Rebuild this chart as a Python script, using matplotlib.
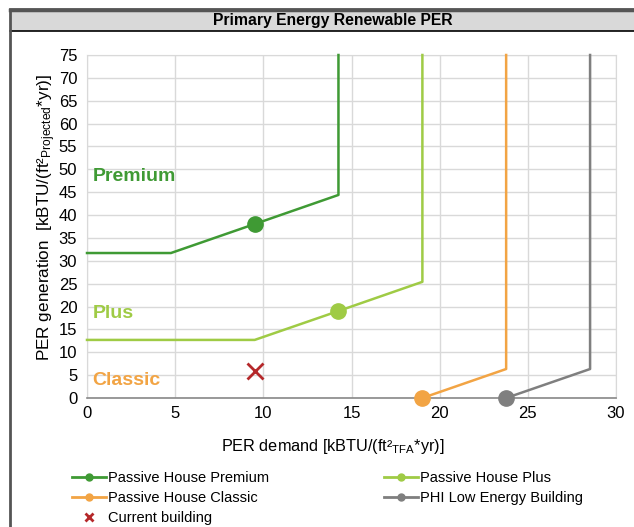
import matplotlib.pyplot as plt
from matplotlib.lines import Line2D
from matplotlib.patches import Rectangle

plt.rcParams['font.family'] = ['Liberation Sans', 'DejaVu Sans']
plt.rcParams['mathtext.fontset'] = 'custom'
plt.rcParams['mathtext.rm'] = 'Liberation Sans'
plt.rcParams['mathtext.it'] = 'Liberation Sans:italic'

# class curves: PER demand (x) vs PER generation (y)
premium_x = [0, 4.76, 9.51, 14.26, 14.26]
premium_y = [31.7, 31.7, 38.04, 44.4, 75]
plus_x = [0, 9.51, 14.26, 19.02, 19.02]
plus_y = [12.7, 12.7, 19.02, 25.4, 75]
classic_x = [19.02, 23.77, 23.77]
classic_y = [0, 6.34, 75]
low_x = [23.77, 28.53, 28.53]
low_y = [0, 6.34, 75]
# marker index in each series
premium_mark = 2
plus_mark = 2
classic_mark = 0
low_mark = 0

current_x = [9.55]
current_y = [5.8]

c_premium = '#3f9a34'
c_plus = '#9fcb45'
c_classic = '#f2a444'
c_low = '#7f7f7f'
c_cur = '#b5282a'

fig = plt.figure(figsize=(6.34, 5.27), dpi=100)

# frame and title bar
W, H = 634, 527
fig.patches.append(Rectangle((10 / W, -0.05), 1, (H - 9) / H + 0.05, transform=fig.transFigure,
                             facecolor='none', edgecolor='#555555', lw=2.0, zorder=5))
fig.patches.append(Rectangle((10 / W, (H - 31) / H), 1, 21 / H, transform=fig.transFigure,
                             facecolor='#d9d9d9', edgecolor='none', zorder=1))
fig.lines.append(Line2D([10 / W, 1], [(H - 31) / H, (H - 31) / H], transform=fig.transFigure,
                        color='black', lw=1.2, zorder=2))
fig.lines.append(Line2D([10 / W, 1], [(H - 9.5) / H, (H - 9.5) / H], transform=fig.transFigure,
                        color='#555555', lw=2.5, zorder=2))
fig.text(333 / W, (H - 20.5) / H, 'Primary Energy Renewable PER', ha='center', va='center',
         fontsize=11.3, fontweight='bold')

ax = fig.add_axes([87 / W, (H - 398) / H, (616 - 87) / W, (398 - 55) / H])
ax.set_xlim(0, 30)
ax.set_ylim(0, 75)
ax.set_xticks(range(0, 31, 5))
ax.set_yticks(range(0, 76, 5))
ax.grid(True, color='#d9d9d9', lw=1)
ax.set_axisbelow(True)
for s in ['top', 'right', 'left']:
    ax.spines[s].set_color('#d9d9d9')
ax.spines['bottom'].set_color('#888888')
ax.spines['bottom'].set_linewidth(1.2)
ax.tick_params(length=0, labelsize=12, pad=6)
ax.tick_params(axis='y', pad=7)

lw = 1.8
ms = 11
ax.plot(premium_x, premium_y, color=c_premium, lw=lw, marker='o', ms=ms,
        markevery=[premium_mark], clip_on=False, zorder=3)
ax.plot(plus_x, plus_y, color=c_plus, lw=lw, marker='o', ms=ms,
        markevery=[plus_mark], clip_on=False, zorder=3)
ax.plot(classic_x, classic_y, color=c_classic, lw=lw, marker='o', ms=ms,
        markevery=[classic_mark], clip_on=False, zorder=3)
ax.plot(low_x, low_y, color=c_low, lw=lw, marker='o', ms=ms,
        markevery=[low_mark], clip_on=False, zorder=3)
ax.plot(current_x, current_y, linestyle='none', marker='x', color=c_cur, ms=11, mew=2, zorder=4)

ax.text(0.3, 48.4, 'Premium', color=c_premium, fontsize=14, fontweight='bold', va='center')
ax.text(0.3, 18.5, 'Plus', color=c_plus, fontsize=14, fontweight='bold', va='center')
ax.text(0.3, 3.9, 'Classic', color=c_classic, fontsize=14, fontweight='bold', va='center')

ax.set_xlabel(r'PER demand [kBTU/(ft²$_{\mathrm{TFA}}$*yr)]', fontsize=11.7)
ax.xaxis.set_label_coords((332.5 - 87) / 529, -(447 - 398) / 343, transform=ax.transAxes)
ax.xaxis.label.set_va('center')
ax.set_ylabel(r'PER generation  [kBTU/(ft²$_{\mathrm{Projected}}$*yr)]', fontsize=12.3)
ax.yaxis.set_label_coords(-(87 - 47) / 529, (398 - 217) / 343, transform=ax.transAxes)
ax.yaxis.label.set_va('center')

handles = [
    Line2D([], [], color=c_premium, lw=2, marker='o', ms=5),
    Line2D([], [], color=c_classic, lw=2, marker='o', ms=5),
    Line2D([], [], color=c_cur, lw=0, marker='x', ms=6, mew=2),
    Line2D([], [], color=c_plus, lw=2, marker='o', ms=5),
    Line2D([], [], color=c_low, lw=2, marker='o', ms=5),
]
labels = ['Passive House Premium', 'Passive House Classic', 'Current building',
          'Passive House Plus', 'PHI Low Energy Building']
fig.legend(handles, labels, ncol=2, loc='upper left', bbox_to_anchor=(72 / W, (H - 471) / H),
           frameon=False, fontsize=10.5, handlelength=2.3, handletextpad=0.15,
           columnspacing=7.9, labelspacing=0.4, borderaxespad=0, borderpad=0)

fig.savefig('out.png', dpi=100)
